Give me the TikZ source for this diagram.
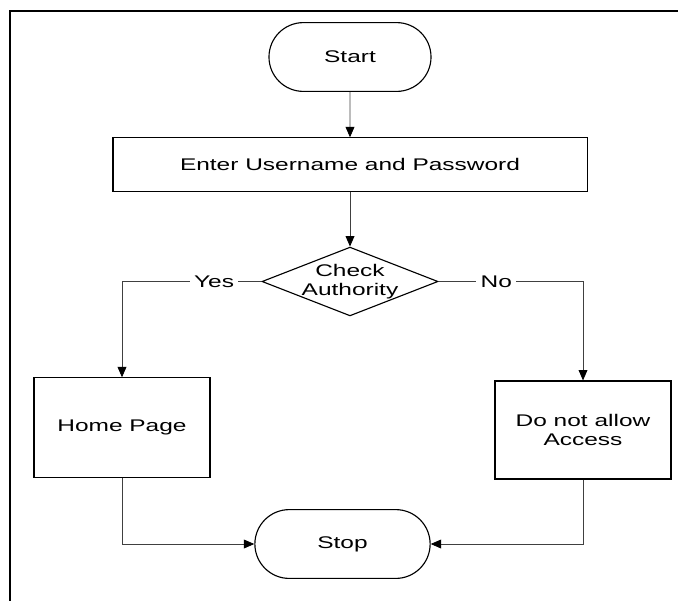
\documentclass[tikz,border=0pt]{standalone}
\usepackage{fontspec}
\setmainfont{Liberation Sans}[FakeStretch=1.45]
\usetikzlibrary{arrows.meta,shapes.geometric,shapes.misc}
\tikzset{
>={Triangle[length=2.6mm,width=2.2mm,color=black]},
terminal/.style={rounded rectangle,draw,line width=0.8pt,minimum height=1.72cm,inner sep=0pt},
process/.style={rectangle,draw,line width=0.8pt,inner sep=0pt,align=center},
decision/.style={diamond,draw,line width=0.8pt,minimum width=4.4cm,minimum height=1.72cm,inner sep=0pt},
flow/.style={->,line width=0.6pt,black!75},
tag/.style={fill=white,text=black,inner sep=3pt}}

\begin{document}
\begin{tikzpicture}[x=0.025cm,y=-0.025cm,font=\fontsize{12}{13.5}\selectfont]

\useasboundingbox (0,0) rectangle (678,601);
\draw[line width=1.3pt] (678,11) -- (10,11) -- (10,601);

\node[terminal,minimum width=4.05cm] (start) at (350,57) {Start};
\node[process,minimum width=11.85cm,minimum height=1.33cm] (enter) at (350,164.5) {Enter Username and Password};
\node[decision,label={[align=center]center:Check\\Authority}] (check) at (350,281.5) {};
\node[process,minimum width=4.4cm,minimum height=2.48cm] (home) at (122,427.5) {Home Page};
\node[process,minimum width=4.4cm,minimum height=2.45cm] (deny) at (583,430) {Do not allow\\Access};
\node[terminal,minimum width=4.38cm] (stop) at (342.5,544) {Stop};

\draw[flow] (start) -- (enter);
\draw[flow] (enter) -- (check);
\draw[flow] (check.west) -| node[tag,pos=0.17] {Yes} (home.north);
\draw[flow] (check.east) -| node[tag,pos=0.2] {No} (deny.north);
\draw[flow] (home.south) |- (stop.west);
\draw[flow] (deny.south) |- (stop.east);

\end{tikzpicture}
\end{document}
